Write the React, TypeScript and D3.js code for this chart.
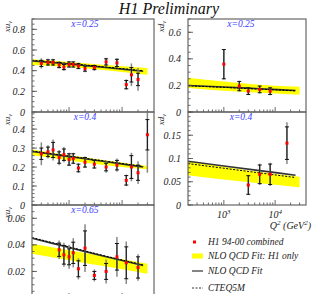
import React from 'react';
import * as d3 from 'd3';

// Q^2 grid for fit curves
const bandQ2 = [200, 1000, 5000, 30000];
const lineQ2 = [200, 1000, 5000, 25000];

// xu_v, x = 0.25
const q2Uv025 = [300, 400, 500, 650, 800, 1000, 1200, 1500, 2000, 3000, 5000, 8000, 12000, 15000, 20000];
const uv025 = [0.47, 0.48, 0.48, 0.455, 0.435, 0.46, 0.46, 0.445, 0.42, 0.43, 0.485, 0.475, 0.265, 0.36, 0.315];
const uv025Stat = [0.03, 0.025, 0.025, 0.025, 0.025, 0.025, 0.025, 0.025, 0.025, 0.02, 0.03, 0.035, 0.04, 0.07, 0.06];
const uv025Tot = [0.05, 0.035, 0.035, 0.035, 0.035, 0.03, 0.03, 0.03, 0.035, 0.03, 0.04, 0.045, 0.05, 0.11, 0.11];
const uv025BandLo = [0.455, 0.435, 0.405, 0.36];
const uv025BandHi = [0.51, 0.485, 0.455, 0.425];
const uv025Fit = [0.495, 0.465, 0.43, 0.395];
const uv025Cteq = [0.5, 0.47, 0.435, 0.4];

// xu_v, x = 0.4
const q2Uv04 = [300, 400, 500, 650, 800, 1000, 1200, 1500, 2000, 3000, 5000, 8000, 12000, 15000, 20000, 30000];
const uv04 = [0.27, 0.28, 0.29, 0.25, 0.265, 0.24, 0.245, 0.195, 0.225, 0.215, 0.2, 0.21, 0.13, 0.2, 0.17, 0.37];
const uv04Stat = [0.03, 0.025, 0.04, 0.03, 0.03, 0.03, 0.025, 0.02, 0.025, 0.02, 0.02, 0.025, 0.025, 0.06, 0.04, 0.08];
const uv04Tot = [0.06, 0.035, 0.055, 0.04, 0.04, 0.035, 0.03, 0.025, 0.03, 0.025, 0.03, 0.035, 0.03, 0.075, 0.06, 0.2];
const uv04BandLo = [0.262, 0.235, 0.21, 0.188];
const uv04BandHi = [0.292, 0.262, 0.235, 0.205];
const uv04Fit = [0.282, 0.255, 0.228, 0.2];
const uv04Cteq = [0.285, 0.258, 0.231, 0.203];

// xu_v, x = 0.65
const q2Uv065 = [650, 800, 1000, 1200, 1500, 2000, 3000, 5000, 8000, 12000, 20000];
const uv065 = [0.0363, 0.0325, 0.031, 0.034, 0.022, 0.0375, 0.017, 0.02, 0.031, 0.0265, 0.023];
const uv065Stat = [0.005, 0.007, 0.006, 0.008, 0.006, 0.013, 0.003, 0.006, 0.01, 0.012, 0.008];
const uv065Tot = [0.007, 0.009, 0.009, 0.011, 0.008, 0.018, 0.0045, 0.009, 0.015, 0.016, 0.01];
const uv065BandLo = [0.0333, 0.0285, 0.0237, 0.0183];
const uv065BandHi = [0.0408, 0.036, 0.0312, 0.0258];
const uv065Fit = [0.045, 0.038, 0.031, 0.0245];
const uv065Cteq = [0.0455, 0.0385, 0.0315, 0.025];

// xd_v, x = 0.25
const q2Dv025 = [1000, 2000, 3000, 5000, 8000];
const dv025 = [0.36, 0.195, 0.157, 0.17, 0.157];
const dv025Stat = [0.11, 0.035, 0.025, 0.025, 0.025];
const dv025Tot = [0.115, 0.04, 0.03, 0.03, 0.03];
const dv025BandLo = [0.18, 0.16, 0.145, 0.13];
const dv025BandHi = [0.258, 0.23, 0.205, 0.19];
const dv025Fit = [0.2, 0.188, 0.175, 0.162];
const dv025Cteq = [0.197, 0.185, 0.172, 0.159];

// xd_v, x = 0.4
const q2Dv04 = [3000, 5000, 8000, 17000];
const dv04 = [0.043, 0.066, 0.066, 0.133];
const dv04Stat = [0.02, 0.02, 0.022, 0.035];
const dv04Tot = [0.021, 0.023, 0.025, 0.045];
const dv04BandLo = [0.064, 0.055, 0.047, 0.038];
const dv04BandHi = [0.094, 0.082, 0.071, 0.061];
const dv04Fit = [0.094, 0.084, 0.074, 0.064];
const dv04Cteq = [0.089, 0.079, 0.069, 0.059];

const legendLabels = ['H1 94-00 combined', 'NLO QCD Fit: H1 only', 'NLO QCD Fit', 'CTEQ5M'];

const cols = [[32, 154], [188, 306]];
const rows = [[19, 112], [112, 205], [205, 298]];
const serif = '"Liberation Serif", "DejaVu Serif", serif';

const panels = [
  { id: 'uv025', col: 0, row: 0, yMax: 0.9, major: 0.2, minor: 0.05, x: 'x=0.25', pdf: 'u',
    q2: q2Uv025, val: uv025, stat: uv025Stat, tot: uv025Tot, lo: uv025BandLo, hi: uv025BandHi, fit: uv025Fit, cteq: uv025Cteq },
  { id: 'uv04', col: 0, row: 1, yMax: 0.49, major: 0.1, minor: 0.02, x: 'x=0.4', pdf: 'u',
    q2: q2Uv04, val: uv04, stat: uv04Stat, tot: uv04Tot, lo: uv04BandLo, hi: uv04BandHi, fit: uv04Fit, cteq: uv04Cteq },
  { id: 'uv065', col: 0, row: 2, yMax: 0.07, major: 0.02, minor: 0.005, x: 'x=0.65', pdf: 'u',
    q2: q2Uv065, val: uv065, stat: uv065Stat, tot: uv065Tot, lo: uv065BandLo, hi: uv065BandHi, fit: uv065Fit, cteq: uv065Cteq },
  { id: 'dv025', col: 1, row: 0, yMax: 0.7, major: 0.2, minor: 0.05, x: 'x=0.25', pdf: 'd',
    q2: q2Dv025, val: dv025, stat: dv025Stat, tot: dv025Tot, lo: dv025BandLo, hi: dv025BandHi, fit: dv025Fit, cteq: dv025Cteq },
  { id: 'dv04', col: 1, row: 1, yMax: 0.2, major: 0.05, minor: 0.01, x: 'x=0.4', pdf: 'd',
    q2: q2Dv04, val: dv04, stat: dv04Stat, tot: dv04Tot, lo: dv04BandLo, hi: dv04BandHi, fit: dv04Fit, cteq: dv04Cteq },
];

const logTicks: number[] = [];
for (let k = 2; k <= 4; k++) for (let m = 1; m <= 9; m++) {
  const v = m * Math.pow(10, k);
  if (v > 200 && v < 40000) logTicks.push(v);
}

const fmt = d3.format('~g');

function Panel({ p }: { p: any }) {
  const [x0, x1] = cols[p.col];
  const [y0, y1] = rows[p.row];
  const xs = d3.scaleLog().domain([200, 40000]).range([x0, x1]);
  const ys = d3.scaleLinear().domain([0, p.yMax]).range([y1, y0]);
  const area = d3.area<number>()
    .x((d, i) => xs(bandQ2[i]))
    .y0((d, i) => ys(p.lo[i]))
    .y1((d, i) => ys(p.hi[i]))
    .curve(d3.curveMonotoneX);
  const line = (arr: number[]) => d3.line<number>()
    .x((d, i) => xs(lineQ2[i]))
    .y(d => ys(d))
    .curve(d3.curveMonotoneX)(arr) || '';
  const majors = d3.range(0, p.yMax + 1e-9, p.major);
  const minors = d3.range(0, p.yMax + 1e-9, p.minor);
  const clip = 'clip-' + p.id;
  const labelX = p.col === 0 ? 85 : 241;
  return (
    <g>
      <defs>
        <clipPath id={clip}><rect x={x0} y={y0} width={x1 - x0} height={y1 - y0} /></clipPath>
      </defs>
      <g clipPath={`url(#${clip})`}>
        <path d={area(p.lo) || ''} fill="#ffff00" />
        <path d={line(p.fit)} fill="none" stroke="#333" strokeWidth={1.6} />
        <path d={line(p.cteq)} fill="none" stroke="#000" strokeWidth={1} strokeDasharray="2,1.5" />
        {p.q2.map((q: number, i: number) => {
          const cx = xs(q);
          const v = p.val[i];
          return (
            <g key={i}>
              <line x1={cx} x2={cx} y1={ys(v - p.tot[i])} y2={ys(v + p.tot[i])} stroke="#888" strokeWidth={1.5} />
              <line x1={cx} x2={cx} y1={ys(v - p.stat[i])} y2={ys(v + p.stat[i])} stroke="#111" strokeWidth={1} />
              <line x1={cx - 2} x2={cx + 2} y1={ys(v - p.stat[i])} y2={ys(v - p.stat[i])} stroke="#111" strokeWidth={1} />
              <line x1={cx - 2} x2={cx + 2} y1={ys(v + p.stat[i])} y2={ys(v + p.stat[i])} stroke="#111" strokeWidth={1} />
              <rect x={cx - 1.5} y={ys(v) - 1.5} width={3} height={3} fill="#ff0000" />
            </g>
          );
        })}
      </g>
      {minors.map((t: number, i: number) => (
        <line key={'m' + i} x1={x0} x2={x0 + 2.5} y1={ys(t)} y2={ys(t)} stroke="#444" strokeWidth={0.8} />
      ))}
      {majors.map((t: number, i: number) => (
        <g key={'M' + i}>
          <line x1={x0} x2={x0 + 5} y1={ys(t)} y2={ys(t)} stroke="#444" strokeWidth={0.8} />
          {ys(t) < 290 && ys(t) > y0 + 3 && (
            <text x={x0 - 7} y={ys(t)} dy="0.35em" textAnchor="end" fontFamily={serif} fontStyle="italic" fontSize={10} fill="#222">
              {fmt(+t.toFixed(4))}
            </text>
          )}
        </g>
      ))}
      {logTicks.map((q, i) => {
        const major = q === 1000 || q === 10000;
        return <line key={'x' + i} x1={xs(q)} x2={xs(q)} y1={y1} y2={y1 - (major ? 5 : 2.5)} stroke="#444" strokeWidth={0.8} />;
      })}
      <rect x={x0} y={y0} width={x1 - x0} height={y1 - y0} fill="none" stroke="#666" strokeWidth={1.2} />
      <text x={labelX} y={y0 + 8} fontFamily={serif} fontStyle="italic" fontSize={9.5} fill="#3c3cff" textAnchor="middle">{p.x}</text>
      <text transform={`translate(${p.col === 0 ? 10 : 164},${y0 + 2}) rotate(-90)`} textAnchor="end" fontFamily={serif} fontStyle="italic" fontSize={9} fill="#222">
        x{p.pdf}<tspan fontSize={6} dy={2}>v</tspan>
      </text>
    </g>
  );
}

export default function App() {
  const lx = 192;
  const ly = [242, 256, 271, 288];
  const xs = d3.scaleLog().domain([200, 40000]).range(cols[1]);
  return (
    <svg width={313} height={294} style={{ position: 'absolute', left: 0, top: 0, background: '#fff' }}>
      <text x={169} y={14} textAnchor="middle" fontFamily={serif} fontStyle="italic" fontSize={16} fill="#111">H1 Preliminary</text>
      {panels.map(p => <Panel key={p.id} p={p} />)}
      {[1000, 10000].map((q, i) => (
        <text key={q} x={xs(q)} y={218} textAnchor="middle" fontFamily={serif} fontStyle="italic" fontSize={10} fill="#222">
          10<tspan fontSize={7} dy={-4}>{i === 0 ? '3' : '4'}</tspan>
        </text>
      ))}
      <text x={311} y={229} textAnchor="end" fontFamily={serif} fontStyle="italic" fontSize={10} fill="#222">
        Q<tspan fontSize={7} dy={-4}>2</tspan><tspan dy={4}> (GeV</tspan><tspan fontSize={7} dy={-4}>2</tspan><tspan dy={4}>)</tspan>
      </text>
      <rect x={lx + 1} y={ly[0] - 1.5} width={3} height={3} fill="#ff0000" />
      <rect x={lx} y={ly[1] - 2.5} width={11} height={5} fill="#ffff00" />
      <line x1={lx} x2={lx + 11} y1={ly[2]} y2={ly[2]} stroke="#777" strokeWidth={1.8} />
      <line x1={lx} x2={lx + 11} y1={ly[3]} y2={ly[3]} stroke="#000" strokeWidth={0.8} strokeDasharray="2,1.5" />
      {legendLabels.map((t, i) => (
        <text key={t} x={208} y={ly[i]} dy="0.35em" fontFamily={serif} fontStyle="italic" fontSize={9.5} fill="#222">{t}</text>
      ))}
    </svg>
  );
}
